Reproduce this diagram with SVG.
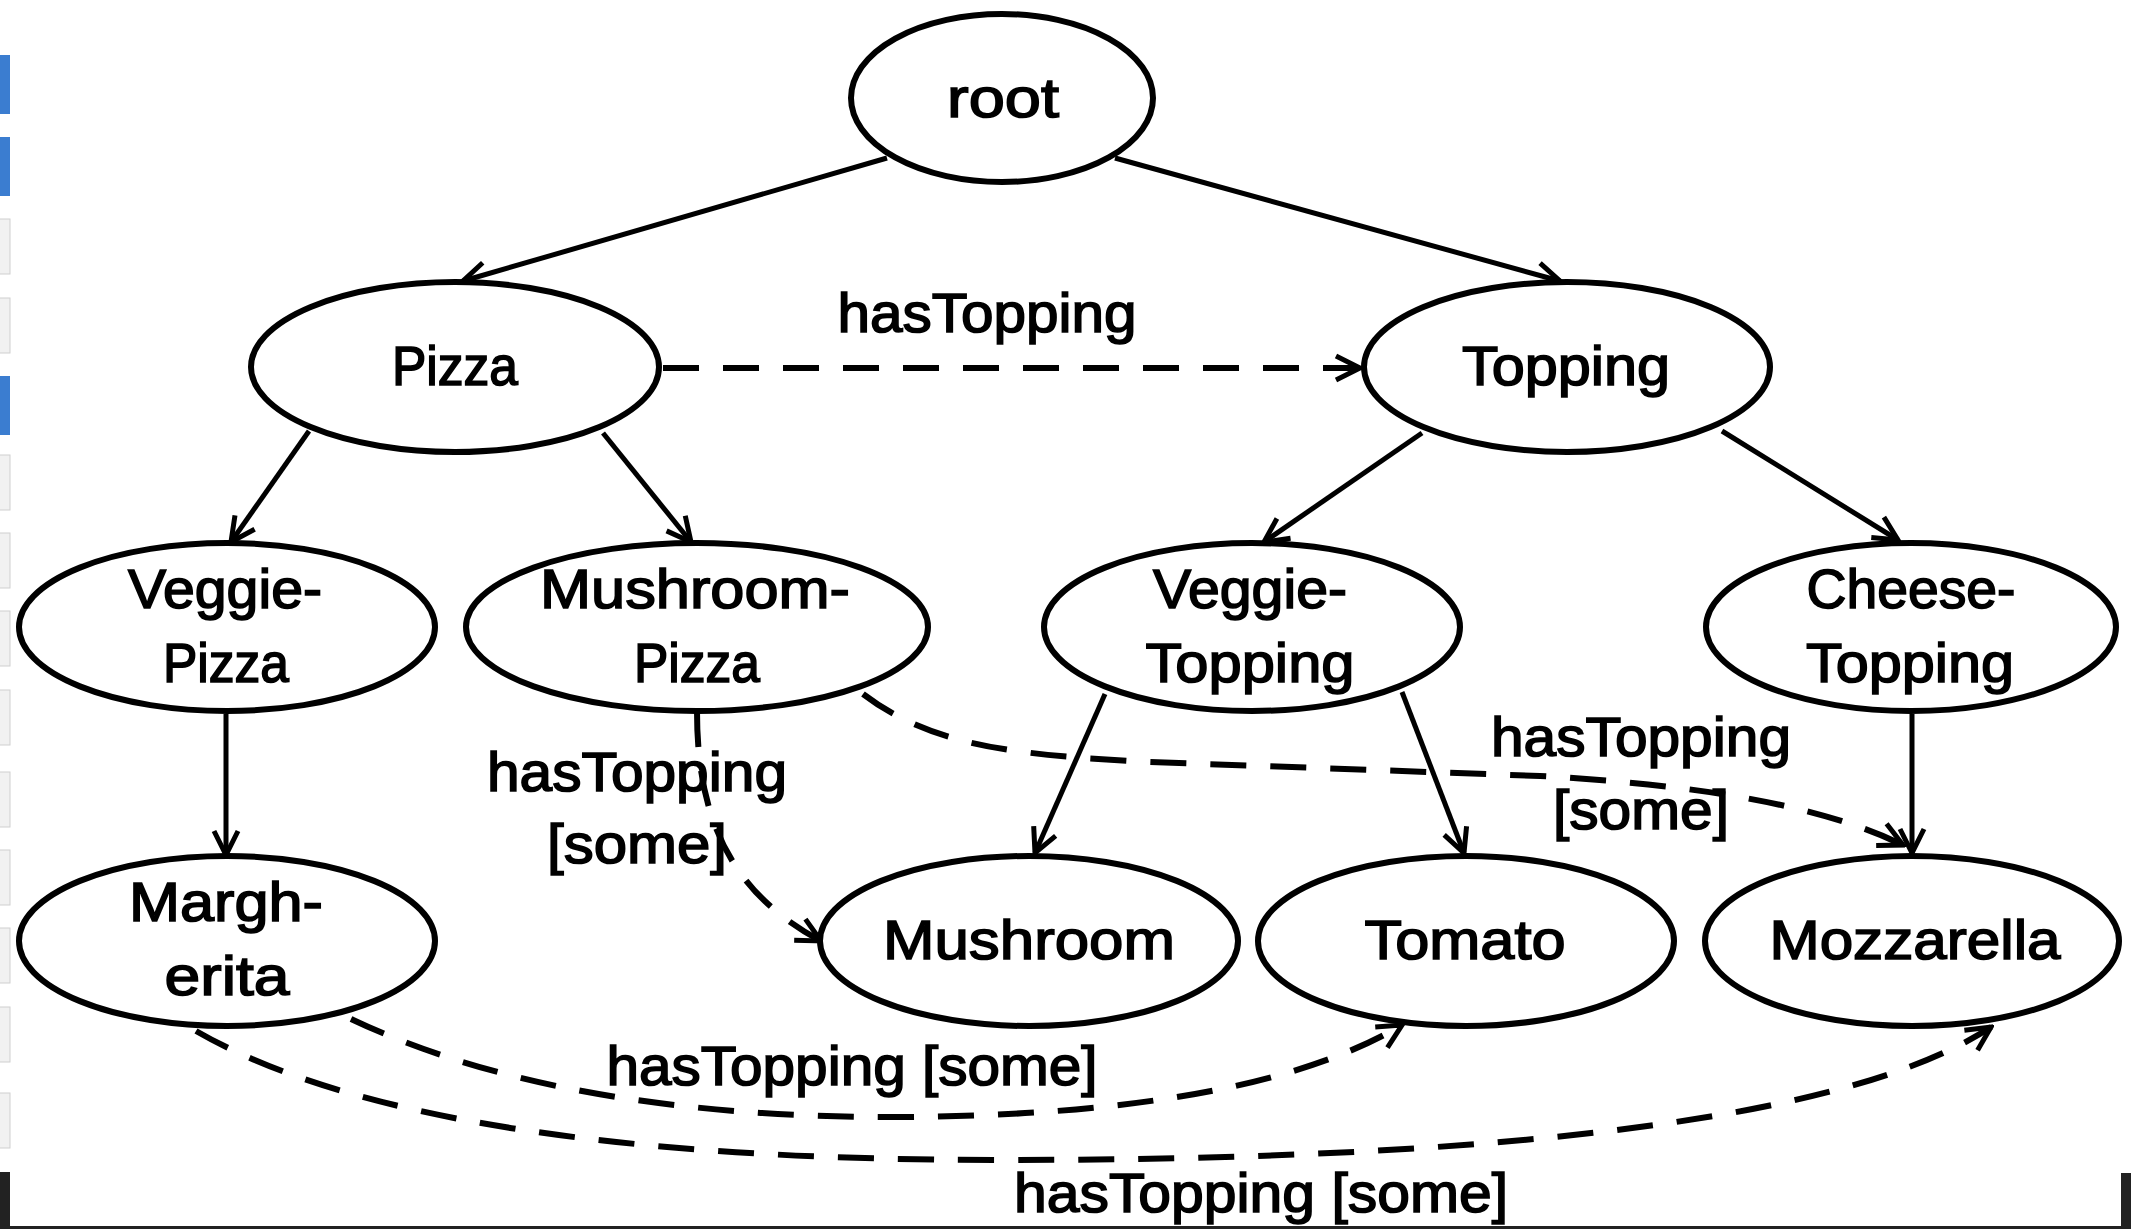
<svg xmlns="http://www.w3.org/2000/svg" width="2131" height="1229" viewBox="0 0 2131 1229">
<defs>
<style>
.node ellipse{fill:#ffffff;stroke:#000;stroke-width:6}
text{font-family:"Liberation Sans Narrow","Liberation Sans",Arial,sans-serif;font-size:56px;fill:#000;stroke:#000;stroke-width:1.6;text-anchor:middle}
.solid{fill:none;stroke:#000;stroke-width:5;marker-end:url(#arr)}
.dash{fill:none;stroke:#000;stroke-width:6;stroke-dasharray:36 24;marker-end:url(#arr)}
.ui{fill:#f1f1f1;stroke:#cfcfcf;stroke-width:1}
.btn{fill:#3b7dd0}
</style>
<marker id="arr" viewBox="0 0 30 30" refX="27" refY="15" markerWidth="30" markerHeight="30" markerUnits="userSpaceOnUse" orient="auto">
<path d="M3,3 L27,15 L3,27" fill="none" stroke="#000" stroke-width="5" stroke-dasharray="none"/>
</marker>
</defs>
<rect width="2131" height="1229" fill="#ffffff"/>
<g id="ui-edge">
<rect class="btn" x="0" y="55" width="10" height="59"/>
<rect class="btn" x="0" y="137" width="10" height="59"/>
<rect class="ui" x="-1" y="219" width="11" height="55"/>
<rect class="ui" x="-1" y="298" width="11" height="55"/>
<rect class="btn" x="0" y="376" width="10" height="59"/>
<rect class="ui" x="-1" y="455" width="11" height="55"/>
<rect class="ui" x="-1" y="533" width="11" height="55"/>
<rect class="ui" x="-1" y="611" width="11" height="55"/>
<rect class="ui" x="-1" y="690" width="11" height="55"/>
<rect class="ui" x="-1" y="772" width="11" height="55"/>
<rect class="ui" x="-1" y="850" width="11" height="55"/>
<rect class="ui" x="-1" y="928" width="11" height="55"/>
<rect class="ui" x="-1" y="1007" width="11" height="55"/>
<rect class="ui" x="-1" y="1093" width="11" height="55"/>
<rect x="0" y="1172" width="10" height="57" fill="#222"/>
<rect x="2121" y="1173" width="10" height="56" fill="#222"/>
<rect x="0" y="1226" width="2131" height="3" fill="#222"/>
</g>
<g id="connectors">
<path class="solid" d="M887,158 L463,281"/>
<path class="solid" d="M1115,158 L1560,281"/>
<path class="dash" d="M663,368 L1360,368"/>
<path class="solid" d="M309,431 L231,542"/>
<path class="solid" d="M603,433 L691,542"/>
<path class="solid" d="M1422,433 L1264,542"/>
<path class="solid" d="M1722,431 L1898,540"/>
<path class="solid" d="M226,714 L226,855"/>
<path class="solid" d="M1105,694 L1035,853"/>
<path class="solid" d="M1402,692 L1464,853"/>
<path class="solid" d="M1912,714 L1912,853"/>
<path class="dash" d="M697,711 C697,810 725,890 821,941"/>
<path class="dash" d="M863,694 C930,745 1010,755 1150,762 L1540,776 C1700,785 1820,805 1903,845"/>
<path class="dash" d="M351,1019 Q560,1118 900,1117 Q1250,1115 1402,1025"/>
<path class="dash" d="M196,1031 Q420,1160 1000,1160 C1500,1160 1850,1120 1991,1027"/>
<text x="987" y="332" textLength="299" lengthAdjust="spacingAndGlyphs">hasTopping</text>
<text x="637" y="791" textLength="300" lengthAdjust="spacingAndGlyphs">hasTopping</text>
<text x="637" y="863" textLength="180" lengthAdjust="spacingAndGlyphs">[some]</text>
<text x="1641" y="756" textLength="300" lengthAdjust="spacingAndGlyphs">hasTopping</text>
<text x="1641" y="829" textLength="176" lengthAdjust="spacingAndGlyphs">[some]</text>
<text x="852" y="1085" textLength="491" lengthAdjust="spacingAndGlyphs">hasTopping [some]</text>
<text x="1261" y="1212" textLength="494" lengthAdjust="spacingAndGlyphs">hasTopping [some]</text>
</g>
<g id="root" class="node"><ellipse cx="1002" cy="98" rx="151" ry="84"/><text x="1003" y="117" textLength="112" lengthAdjust="spacingAndGlyphs">root</text></g>
<g id="pizza" class="node"><ellipse cx="455" cy="367" rx="204" ry="85"/><text x="455" y="385" textLength="126" lengthAdjust="spacingAndGlyphs">Pizza</text></g>
<g id="topping" class="node"><ellipse cx="1567" cy="367" rx="203" ry="85"/><text x="1566" y="385" textLength="208" lengthAdjust="spacingAndGlyphs">Topping</text></g>
<g id="veggie-pizza" class="node"><ellipse cx="227" cy="627" rx="208" ry="84"/><text x="225" y="608" textLength="194" lengthAdjust="spacingAndGlyphs">Veggie-</text><text x="226" y="682" textLength="126" lengthAdjust="spacingAndGlyphs">Pizza</text></g>
<g id="mushroom-pizza" class="node"><ellipse cx="697" cy="627" rx="231" ry="84"/><text x="695" y="608" textLength="310" lengthAdjust="spacingAndGlyphs">Mushroom-</text><text x="697" y="682" textLength="126" lengthAdjust="spacingAndGlyphs">Pizza</text></g>
<g id="veggie-topping" class="node"><ellipse cx="1252" cy="627" rx="208" ry="84"/><text x="1250" y="608" textLength="194" lengthAdjust="spacingAndGlyphs">Veggie-</text><text x="1250" y="682" textLength="209" lengthAdjust="spacingAndGlyphs">Topping</text></g>
<g id="cheese-topping" class="node"><ellipse cx="1911" cy="627" rx="205" ry="84"/><text x="1911" y="608" textLength="209" lengthAdjust="spacingAndGlyphs">Cheese-</text><text x="1910" y="682" textLength="208" lengthAdjust="spacingAndGlyphs">Topping</text></g>
<g id="margherita" class="node"><ellipse cx="227" cy="941" rx="208" ry="85"/><text x="226" y="921" textLength="194" lengthAdjust="spacingAndGlyphs">Margh-</text><text x="227" y="995" textLength="125" lengthAdjust="spacingAndGlyphs">erita</text></g>
<g id="mushroom" class="node"><ellipse cx="1029" cy="941" rx="209" ry="85"/><text x="1029" y="959" textLength="292" lengthAdjust="spacingAndGlyphs">Mushroom</text></g>
<g id="tomato" class="node"><ellipse cx="1466" cy="941" rx="208" ry="85"/><text x="1465" y="959" textLength="201" lengthAdjust="spacingAndGlyphs">Tomato</text></g>
<g id="mozzarella" class="node"><ellipse cx="1912" cy="941" rx="207" ry="85"/><text x="1915" y="959" textLength="291" lengthAdjust="spacingAndGlyphs">Mozzarella</text></g>
</svg>
